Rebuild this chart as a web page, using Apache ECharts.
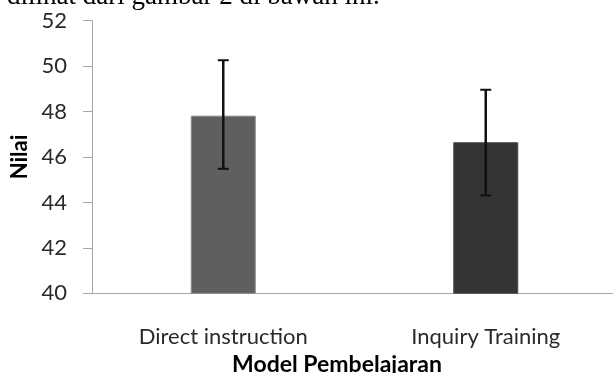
<!DOCTYPE html>
<html>
<head>
<meta charset="utf-8">
<script src="https://cdn.jsdelivr.net/npm/echarts@6/dist/echarts.min.js"></script>
<style>
html,body{margin:0;padding:0;background:#fff;}
#chart{width:613px;height:373px;}
</style>
</head>
<body>
<div id="chart"></div>
<script>
const categories = ['Direct instruction', 'Inquiry Training'];
const means = [47.82, 46.65];
const lows = [45.48, 44.31];
const highs = [50.26, 48.96];
const yTicks = [40, 42, 44, 46, 48, 50, 52];
const barColors = ['#5f5f5f', '#343434'];
const borderColors = ['#8a8a8a', '#4a4a4a'];

const chart = echarts.init(document.getElementById('chart'));
const font = 'Lato';
chart.setOption({
  animation: false,
  backgroundColor: '#fff',
  grid: { left: 92, right: -4, top: 20.7, bottom: 79.7, containLabel: false, outerBoundsMode: 'none' },
  graphic: [{
    type: 'text', left: 7, top: -17,
    style: { text: 'dilihat dari gambar 2 di bawah ini.', font: '27px "Liberation Serif"', fill: '#000' }
  }],
  xAxis: {
    type: 'category',
    data: categories,
    axisLine: { lineStyle: { color: '#a6a6a6', width: 1 } },
    axisTick: { show: false },
    axisLabel: { color: '#2a2a2a', fontFamily: font, fontSize: 22, margin: 33 },
    name: 'Model Pembelajaran',
    nameLocation: 'middle',
    nameGap: 60,
    nameTextStyle: { color: '#000', fontFamily: font, fontSize: 23, fontWeight: 'bold', padding: [0, 35, 0, 0] }
  },
  yAxis: {
    type: 'value',
    min: yTicks[0], max: yTicks[yTicks.length - 1], interval: 2,
    axisLine: { show: true, lineStyle: { color: '#a6a6a6', width: 1 } },
    axisTick: { show: true, length: 9, lineStyle: { color: '#a6a6a6' } },
    splitLine: { show: false },
    axisLabel: { color: '#2a2a2a', fontFamily: font, fontSize: 22, margin: 25 },
    name: 'Nilai',
    nameLocation: 'middle',
    nameGap: 60,
    nameTextStyle: { color: '#000', fontFamily: font, fontSize: 22, fontWeight: 'bold' }
  },
  series: [{
    type: 'bar',
    barWidth: 65,
    data: means.map((v, i) => ({ value: v, itemStyle: { color: barColors[i], borderColor: borderColors[i], borderWidth: 1 } }))
  }, {
    type: 'custom',
    data: categories.map((c, i) => [i, lows[i], highs[i]]),
    renderItem: function (params, api) {
      const x = api.value(0);
      const lo = api.coord([x, api.value(1)]);
      const hi = api.coord([x, api.value(2)]);
      const hw = 5.5;
      const st = { stroke: '#111', lineWidth: 2.5 };
      return {
        type: 'group',
        children: [
          { type: 'line', shape: { x1: lo[0], y1: lo[1], x2: hi[0], y2: hi[1] }, style: st },
          { type: 'line', shape: { x1: lo[0] - hw, y1: lo[1], x2: lo[0] + hw, y2: lo[1] }, style: { stroke: '#111', lineWidth: 2 } },
          { type: 'line', shape: { x1: hi[0] - hw, y1: hi[1], x2: hi[0] + hw, y2: hi[1] }, style: { stroke: '#111', lineWidth: 2 } }
        ]
      };
    },
    z: 5
  }]
});
</script>
</body>
</html>
